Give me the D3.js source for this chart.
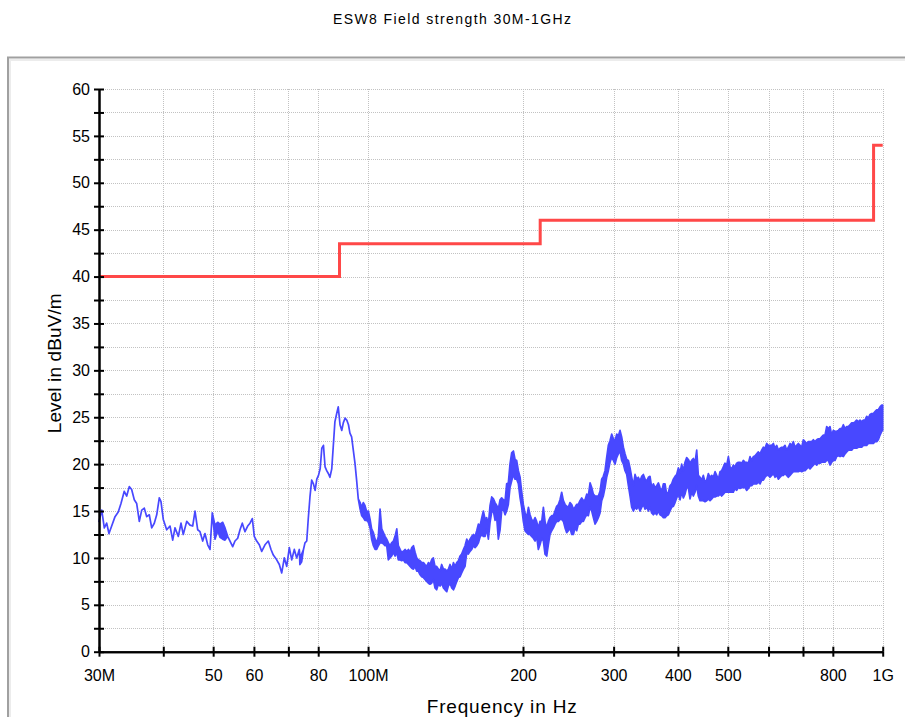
<!DOCTYPE html>
<html>
<head>
<meta charset="utf-8">
<title>ESW8 Field strength 30M-1GHz</title>
<script src="https://cdn.jsdelivr.net/npm/d3@7"></script>
<style>
  html, body { margin: 0; padding: 0; background: #ffffff; }
  svg { display: block; }
  text { font-family: "Liberation Sans", Arial, sans-serif; fill: #000; }
</style>
</head>
<body>
<svg id="chart" width="905" height="717"></svg>
<script>
// ---- chart text ----
const chartTitle = "ESW8 Field strength 30M-1GHz";
const xAxisTitle = "Frequency in Hz";
const yAxisTitle = "Level in dBuV/m";

// ---- axis ticks (frequency in MHz, level in dBuV/m) ----
const freqTicks = [30, 40, 50, 60, 70, 80, 100, 200, 300, 400, 500, 600, 700, 800, 1000];
const freqTickLabels = ["30M", "", "50", "60", "", "80", "100M", "200", "300", "400", "500", "", "", "800", "1G"];
const levelTicks = [0, 2.5, 5, 7.5, 10, 12.5, 15, 17.5, 20, 22.5, 25, 27.5, 30, 32.5, 35, 37.5, 40, 42.5, 45, 47.5, 50, 52.5, 55, 57.5, 60];
const levelTickLabels = ["0", "", "5", "", "10", "", "15", "", "20", "", "25", "", "30", "", "35", "", "40", "", "45", "", "50", "", "55", "", "60"];

// ---- limit line (step function) ----
const limitFreq = [30, 88, 88, 216, 216, 960, 960, 1000];
const limitLevel = [40, 40, 43.5, 43.5, 46, 46, 54, 54];

// ---- measured sweep: [MHz, min level, max level]; a single level means a thin trace ----
const sweep30to74 = [
  [30.00,13.9],[30.37,15.1],[30.72,13.2],[31.05,13.7],[31.37,12.6],[31.75,13.4],[32.23,14.4],[32.70,14.9],
  [33.10,15.8],[33.59,17.1],[33.96,16.6],[34.35,17.6],[34.72,17.3],[35.13,16.2],[35.51,15.8],[35.93,13.9],
  [36.32,15.1],[36.74,15.3],[37.14,14.4],[37.57,14.6],[37.98,13.2],[38.42,13.7],[38.84,14.6],[39.29,16.4],
  [39.59,16.0],[40.00,14.1],[40.61,13.0],[41.22,13.4],[41.72,11.9],[42.15,13.2],[42.78,12.3],[43.30,13.7],
  [43.74,12.5],[44.42,13.9],[45.08,13.5],[45.62,13.4],[46.10,15.0],[46.66,13.0],[47.14,12.8],[47.71,11.8],
  [48.20,12.6],[48.79,11.4],[49.30,10.9],[49.80,14.8],[50.41,12.0,13.5],[51.02,12.9,13.8],[51.55,12.2,13.6],
  [52.18,12.0,13.8],[52.72,11.9,13.2],[53.36,12.3],[53.91,11.8],[54.56,11.2],[55.13,11.8],[55.80,12.1],
  [56.38,13.0],[56.96,13.7],[57.65,12.8],[58.35,13.4],[58.96,13.7],[59.57,14.2],[60.10,12.3],[60.75,11.8],
  [61.46,11.4],[62.13,10.7],[63.05,11.4],[63.99,11.8],[64.77,10.9],[65.44,10.3],[66.44,9.8],[67.22,9.3],
  [67.95,8.4],[68.74,10.0],[69.48,9.1],[70.30,11.1],[71.06,9.8],[71.89,10.9],[72.66,10.0],[73.51,10.9]
];

const sweep74to180 = [
  [73.7,9.3,10.2],[74.3,9.6,10.4],[74.9,10.9],[75.4,11.6],[76.0,11.8],[76.5,14.1],[77.1,16.5],[77.7,18.3],
  [78.3,17.9],[78.9,17.2],[79.5,18.4],[80.1,18.8],[80.7,19.5],[81.3,21.7],[81.9,22.0],[82.5,19.7],
  [83.1,19.3],[83.7,19.0],[84.3,18.6],[85.0,19.5],[85.6,22.0],[86.2,24.5],[86.9,25.4],[87.5,26.1],
  [88.2,24.2],[88.9,23.6],[89.5,24.4],[90.2,24.9],[90.9,24.7],[91.6,24.2],[92.2,23.3],[92.9,22.9],
  [93.6,21.5],[94.3,20.1],[95.0,18.3],[95.7,16.3],[96.5,15.2,15.9],[97.2,14.5,15.4],[97.9,14.3,15.9],
  [98.6,14.0,15.6],[99.4,14.0,14.9],[100.1,13.8,15.0],[100.9,13.2,14.1],[101.6,12.0,13.1],[102.4,11.3,12.7],
  [103.2,10.9,12.0],[103.9,10.9,11.6],[104.7,11.3,12.3],[105.5,11.6,15.2],[106.3,11.6,13.1],[107.1,11.5,12.7],
  [107.9,11.3,12.3],[108.7,11.3,12.0],[109.5,9.8,11.6],[110.3,10.0,11.3],[111.1,10.2,11.6],[112.0,10.6,11.8],
  [112.8,10.2,12.3],[113.7,10.6,13.1],[114.5,9.8,11.3],[115.4,9.8,10.9],[116.2,9.7,10.6],[117.1,9.8,10.7],
  [118.0,9.5,10.9],[118.9,9.5,10.7],[119.8,9.3,10.9],[120.7,9.1,10.6],[121.6,8.9,11.1],[122.5,8.8,11.3],
  [123.4,9.1,10.6],[124.3,8.6,10.0],[125.2,8.6,9.8],[126.2,8.2,9.7],[127.1,8.0,9.5],[128.1,7.9,9.5],
  [129.0,7.7,9.3],[130.0,7.5,9.1],[131.0,7.3,9.5],[131.9,7.2,9.3],[132.9,7.3,9.8],[133.9,7.7,10.0],
  [134.9,6.8,9.1],[135.9,6.6,9.1],[137.0,7.2,8.8],[138.0,7.0,8.6],[139.0,7.3,9.3],[140.1,6.8,8.8],
  [141.1,6.6,8.8],[142.2,6.4,8.6],[143.2,7.0,8.8],[144.3,7.3,9.3],[145.4,6.8,8.8],[146.5,6.6,9.5],
  [147.6,7.0,9.1],[148.7,7.5,9.5],[149.8,7.9,9.7],[150.9,8.0,10.2],[152.0,8.4,10.4],[153.2,8.8,10.9],
  [154.3,9.1,11.3],[155.5,10.6,12.0],[156.6,10.4,11.6],[157.8,10.7,12.0],[159.0,10.9,12.3],[160.2,11.3,12.5],
  [161.4,11.1,12.3],[162.6,11.3,12.9],[163.8,11.6,13.6],[165.0,12.2,13.4],[166.3,12.5,14.3],[167.5,12.3,15.0],
  [168.8,12.3,14.1],[170.0,13.1,14.3],[171.3,12.0,13.6],[172.6,13.8,15.6],[173.9,14.9,16.5],[175.2,15.0,16.3],
  [176.5,14.0,15.9],[177.8,14.3,15.6],[179.1,12.0,15.2]
];

const sweep180to422 = [
  [180.5,13.0,16.2],[181.8,15.0,16.4],[183.2,15.2,16.2],[184.6,14.6,16.1],[185.9,15.0,17.9],[187.3,15.7,18.0],
  [188.7,17.5,20.0],[190.1,18.2,21.2],[191.6,18.9,21.4],[193.0,18.4,20.5],[194.4,18.4,20.4],[195.9,17.9,19.3],
  [197.4,16.4,18.6],[198.8,15.4,17.1],[200.3,13.9,15.7],[201.8,12.9,14.8],[203.3,12.7,14.3],[204.9,12.5,15.4],
  [206.4,12.5,14.6],[207.9,12.3,14.1],[209.5,12.1,13.9],[211.1,11.8,14.3],[212.6,12.3,13.9],[214.2,10.9,13.2],
  [215.8,11.4,13.9],[217.5,12.1,13.9],[219.1,11.8,15.4],[220.7,10.4,13.9],[222.4,10.2,13.2],[224.0,11.4,13.9],
  [225.7,12.5,14.3],[227.4,12.9,14.5],[229.1,13.2,14.5],[230.8,13.6,15.0],[232.5,13.9,15.5],[234.3,13.9,15.7],
  [236.0,14.1,16.2],[237.8,14.1,17.0],[239.6,13.9,16.1],[241.4,13.2,15.7],[243.2,12.7,15.5],[245.0,12.9,15.4],
  [246.8,13.2,15.9],[248.7,12.5,15.7],[250.6,12.5,15.2],[252.4,13.2,15.4],[254.3,12.9,15.7],[256.2,13.6,15.7],
  [258.1,13.6,16.1],[260.1,13.9,16.4],[262.0,13.9,16.1],[264.0,14.3,16.2],[266.0,14.6,16.8],[267.9,14.5,16.6],
  [270.0,15.4,18.0],[272.0,15.0,17.5],[274.0,14.3,16.8],[276.1,13.6,16.6],[278.1,13.9,16.6],[280.2,14.3,16.6],
  [282.3,14.8,17.1],[284.4,16.1,18.4],[286.5,16.6,18.7],[288.7,17.5,19.3],[290.8,18.6,20.7],[293.0,19.3,22.0],
  [295.2,20.2,22.5],[297.4,20.7,23.2],[299.7,20.4,22.7],[301.9,20.0,22.5],[304.2,20.7,23.2],[306.4,21.1,23.0],
  [308.7,21.4,23.6],[311.0,20.4,22.9],[313.4,20.0,21.8],[315.7,19.3,21.1],[318.1,18.9,20.5],[320.5,17.7,20.4],
  [322.9,16.6,19.6],[325.3,15.4,18.6],[327.7,15.0,17.7],[330.2,15.4,18.9],[332.6,15.2,18.4],[335.1,15.5,18.6],
  [337.6,15.0,18.2],[340.2,15.4,18.7],[342.7,15.7,18.9],[345.3,15.2,18.4],[347.9,15.4,18.2],[350.5,15.0,18.6],
  [353.1,15.4,18.7],[355.7,14.8,17.5],[358.4,14.6,17.9],[361.1,14.8,17.5],[363.8,14.6,17.7],[366.5,15.0,18.0],
  [369.2,14.6,17.5],[372.0,14.5,17.1],[374.8,14.3,17.9],[377.6,14.3,17.9],[380.4,14.5,16.8],[383.3,14.6,17.0],
  [386.1,15.0,17.7],[389.0,15.4,17.9],[391.9,15.5,18.4],[394.9,15.9,18.7],[397.8,16.4,18.9],[400.8,16.8,19.6],
  [403.8,16.2,19.1],[406.8,17.0,20.0],[409.9,16.4,19.3],[412.9,16.8,20.2],[416.0,17.5,20.7],[419.1,17.5,20.5]
];

const sweep422to1000 = [
  [422.3,16.3,20.1],[425.4,17.0,20.4],[428.6,16.6,20.6],[431.8,17.0,20.2],[435.1,17.7,21.5],[438.3,16.6,18.8],
  [441.6,16.1,18.6],[444.9,16.1,18.3],[448.2,16.1,18.8],[451.6,16.0,18.1],[455.0,16.1,18.3],[458.4,16.3,19.0],
  [461.8,16.1,18.6],[465.3,16.3,18.8],[468.7,16.5,18.6],[472.3,16.5,19.2],[475.8,16.6,18.8],[479.4,16.6,18.4],
  [482.9,16.8,19.2],[486.5,16.6,19.3],[490.2,16.8,19.7],[493.9,17.0,20.1],[497.6,17.0,19.9],[501.3,17.0,20.8],
  [505.0,17.0,19.7],[508.8,17.0,19.5],[512.6,17.0,19.9],[516.5,17.4,19.7],[520.3,17.2,20.1],[524.2,17.5,20.2],
  [528.1,17.4,20.2],[532.1,17.5,20.1],[536.1,17.5,20.4],[540.1,17.5,20.2],[544.1,17.2,20.2],[548.2,17.4,20.1],
  [552.3,17.7,20.8],[556.4,17.7,20.4],[560.6,17.9,20.8],[564.8,17.9,20.9],[569.0,17.9,21.1],[573.3,18.1,21.3],
  [577.6,17.9,21.1],[581.9,18.3,21.5],[586.3,18.3,21.8],[590.6,18.6,21.7],[595.1,18.8,22.2],[599.5,18.8,22.0],
  [604.0,18.6,22.0],[608.5,18.8,22.0],[613.1,19.0,22.2],[617.7,18.6,21.7],[622.3,18.8,22.0],[627.0,18.4,21.5],
  [631.7,18.6,21.7],[636.4,18.8,21.8],[641.1,18.8,21.8],[645.9,19.0,22.0],[650.8,18.8,21.5],[655.6,18.6,21.8],
  [660.6,18.8,22.2],[665.5,19.0,22.0],[670.5,19.2,22.4],[675.5,19.2,21.8],[680.6,19.2,22.0],[685.6,19.2,22.2],
  [690.8,19.3,22.0],[696.0,19.2,21.8],[701.2,19.3,22.6],[706.4,19.3,22.4],[711.7,19.5,22.2],[717.0,19.7,22.4],
  [722.4,19.5,22.4],[727.8,19.7,22.4],[733.2,19.9,22.6],[738.7,20.1,22.4],[744.3,19.9,22.6],[749.8,20.1,22.7],
  [755.4,20.1,22.7],[761.1,20.2,22.9],[766.8,20.2,23.1],[772.5,20.2,23.1],[778.3,20.4,24.0],[784.1,20.4,23.8],
  [790.0,19.9,24.0],[795.9,20.2,23.1],[801.9,20.4,23.6],[807.9,20.4,23.5],[813.9,20.8,23.5],[820.0,20.9,23.6],
  [826.2,20.8,23.8],[832.3,20.9,23.8],[838.6,20.8,24.2],[844.8,21.1,23.8],[851.2,21.3,24.0],[857.6,21.5,24.0],
  [864.0,21.5,24.2],[870.4,21.5,24.4],[877.0,21.7,24.4],[883.5,21.7,24.5],[890.1,21.7,24.7],[896.8,21.8,24.5],
  [903.5,21.8,24.7],[910.3,21.8,24.5],[917.1,22.0,24.7],[923.9,22.0,24.7],[930.9,22.0,25.1],[937.8,22.2,24.9],
  [944.9,22.2,25.3],[951.9,22.2,25.4],[959.1,22.2,25.4],[966.2,22.4,25.6],[973.5,22.4,25.8],[980.7,22.6,25.8],
  [988.1,23.1,26.1],[995.5,23.5,26.3],[1000,23.6,26.3]
];

const sweep = [].concat(sweep30to74, sweep74to180, sweep180to422, sweep422to1000);

// ---- layout ----
const svg = d3.select("#chart");
const plot = { left: 99, right: 882.7, top: 89, bottom: 651.7 };

const x = d3.scaleLog().domain([30, 1000]).range([plot.left, plot.right]);
const y = d3.scaleLinear().domain([0, 60]).range([plot.bottom, plot.top]);

// window frame
svg.append("path")
  .attr("d", "M8,717V57.5H905")
  .attr("fill", "none").attr("stroke", "#a0a0a0").attr("stroke-width", 2);
svg.append("path")
  .attr("d", "M10,717V60H905")
  .attr("fill", "none").attr("stroke", "#ececec").attr("stroke-width", 2);

// title
svg.append("text")
  .attr("x", 452).attr("y", 23.5)
  .attr("text-anchor", "middle")
  .attr("font-size", 14)
  .attr("textLength", 238).attr("lengthAdjust", "spacing")
  .text(chartTitle);

// dotted grid
const grid = svg.append("g")
  .attr("stroke", "#c2c2c2").attr("stroke-width", 1)
  .attr("stroke-dasharray", "1,1").attr("shape-rendering", "crispEdges");

grid.selectAll("line.h")
  .data(levelTicks.filter(v => v > 0))
  .join("line").attr("class", "h")
  .attr("x1", plot.left).attr("x2", plot.right)
  .attr("y1", d => Math.round(y(d)) + 0.5).attr("y2", d => Math.round(y(d)) + 0.5);

grid.selectAll("line.v")
  .data(freqTicks.filter(v => v > 30))
  .join("line").attr("class", "v")
  .attr("y1", plot.top).attr("y2", plot.bottom)
  .attr("x1", d => Math.round(x(d)) + 0.5).attr("x2", d => Math.round(x(d)) + 0.5);

// limit line
const limitLine = d3.line()
  .x((d, i) => x(limitFreq[i]))
  .y((d, i) => y(limitLevel[i]));
svg.append("path")
  .attr("d", limitLine(limitFreq))
  .attr("fill", "none")
  .attr("stroke", "#ff4848")
  .attr("stroke-width", 3)
  .attr("stroke-linejoin", "miter");

// measured trace: envelope between min and max of each sweep point
const traceArea = d3.area()
  .x(d => x(d[0]))
  .y0(d => y(d[1]))
  .y1(d => y(d.length > 2 ? d[2] : d[1]));
svg.append("path")
  .attr("d", traceArea(sweep))
  .attr("fill", "#4848ff")
  .attr("stroke", "#4848ff")
  .attr("stroke-width", 1.7)
  .attr("stroke-linejoin", "round");

// axes
function styleAxis(g) {
  g.attr("font-family", "\"Liberation Sans\", Arial, sans-serif").attr("font-size", 16);
  g.selectAll("path.domain").attr("stroke", "#000").attr("stroke-width", 2);
  g.selectAll(".tick line").attr("stroke", "#000").attr("stroke-width", 2);
  g.selectAll(".tick text").attr("fill", "#000");
}

const freqLabel = d => freqTickLabels[freqTicks.indexOf(d)];
const levelLabel = d => levelTickLabels[levelTicks.indexOf(d)];

svg.append("g")
  .attr("transform", `translate(0,${plot.bottom})`)
  .call(d3.axisTop(x).tickValues(freqTicks).tickFormat(() => "").tickSizeInner(5).tickSizeOuter(0))
  .call(styleAxis);
svg.append("g")
  .attr("transform", `translate(0,${plot.bottom})`)
  .call(d3.axisBottom(x).tickValues(freqTicks).tickFormat(freqLabel).tickSizeInner(5).tickSizeOuter(0).tickPadding(13))
  .call(styleAxis);

svg.append("g")
  .attr("transform", `translate(${plot.left},0)`)
  .call(d3.axisRight(y).tickValues(levelTicks).tickFormat(() => "").tickSizeInner(5).tickSizeOuter(0))
  .call(styleAxis);
svg.append("g")
  .attr("transform", `translate(${plot.left},0)`)
  .call(d3.axisLeft(y).tickValues(levelTicks).tickFormat(levelLabel).tickSizeInner(5).tickSizeOuter(0).tickPadding(4))
  .call(styleAxis);

// axis titles
svg.append("text")
  .attr("x", 501.7).attr("y", 713.3)
  .attr("text-anchor", "middle")
  .attr("font-size", 19)
  .attr("textLength", 150).attr("lengthAdjust", "spacing")
  .text(xAxisTitle);

svg.append("text")
  .attr("transform", "translate(60.5,363.3) rotate(-90)")
  .attr("text-anchor", "middle")
  .attr("font-size", 19)
  .attr("textLength", 140).attr("lengthAdjust", "spacing")
  .text(yAxisTitle);
</script>
</body>
</html>
